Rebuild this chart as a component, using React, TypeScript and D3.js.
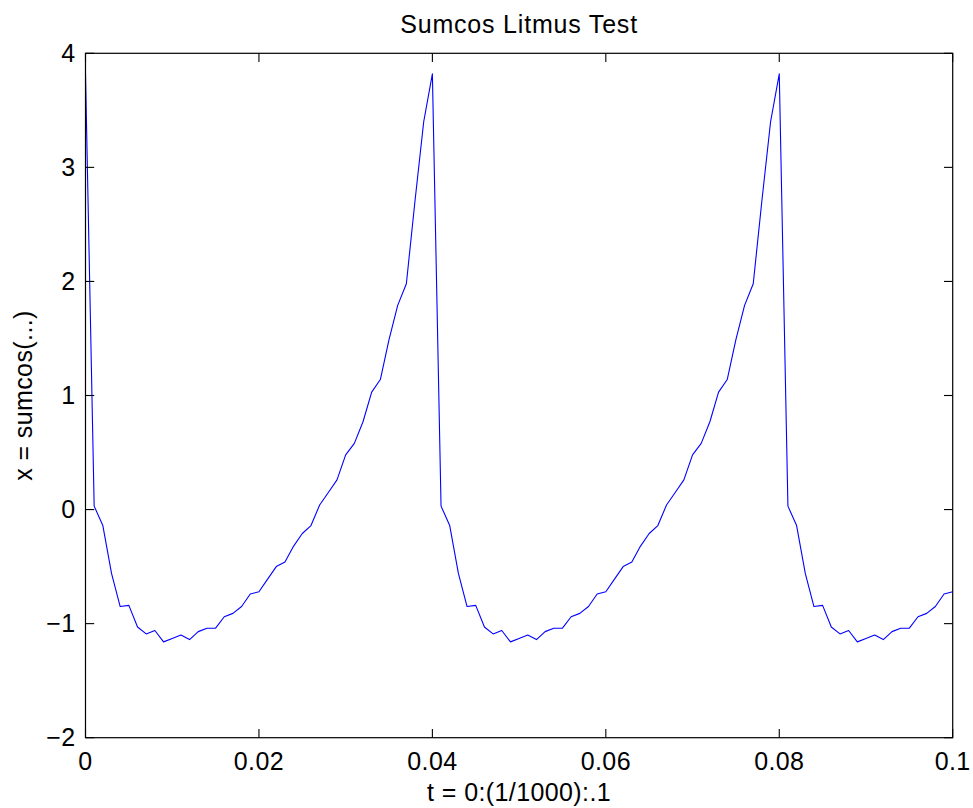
import React, {useEffect, useRef} from 'react';
import * as d3 from 'd3';

const WIDTH = 973;
const HEIGHT = 808;

const sumcosValues = [
    3.82, 0.03, -0.14, -0.56, -0.85, -0.84, -1.03, -1.09, -1.06, -1.16,
    -1.13, -1.10, -1.14, -1.07, -1.04, -1.04, -0.94, -0.91, -0.85, -0.74,
    -0.72, -0.61, -0.50, -0.46, -0.32, -0.21, -0.14, 0.04, 0.15, 0.26,
    0.48, 0.58, 0.77, 1.03, 1.14, 1.49, 1.79, 1.98, 2.71, 3.40,
    3.82, 0.03, -0.14, -0.56, -0.85, -0.84, -1.03, -1.09, -1.06, -1.16,
    -1.13, -1.10, -1.14, -1.07, -1.04, -1.04, -0.94, -0.91, -0.85, -0.74,
    -0.72, -0.61, -0.50, -0.46, -0.32, -0.21, -0.14, 0.04, 0.15, 0.26,
    0.48, 0.58, 0.77, 1.03, 1.14, 1.49, 1.79, 1.98, 2.71, 3.40,
    3.82, 0.03, -0.14, -0.56, -0.85, -0.84, -1.03, -1.09, -1.06, -1.16,
    -1.13, -1.10, -1.14, -1.07, -1.04, -1.04, -0.94, -0.91, -0.85, -0.74,
    -0.72
];
const xTicks = [0, 0.02, 0.04, 0.06, 0.08, 0.1];
const xTickLabels = ['0', '0.02', '0.04', '0.06', '0.08', '0.1'];
const yTicks = [-2, -1, 0, 1, 2, 3, 4];
const yTickLabels = ['\u22122', '\u22121', '0', '1', '2', '3', '4'];

const TITLE = 'Sumcos Litmus Test';
const X_LABEL = 't = 0:(1/1000):.1';
const Y_LABEL = 'x = sumcos(...)';

const App = () => {
    const svgRef = useRef<SVGSVGElement>(null);

    useEffect(() => {
        const margin = {left: 85.5, right: WIDTH - 952.7, top: 53.3, bottom: HEIGHT - 737.7};
        const font = '"Liberation Sans", Arial, Helvetica, sans-serif';
        const fontSize = 25;
        const tickLen = 8.7;

        const x = d3.scaleLinear().domain([0, 0.1]).range([margin.left, WIDTH - margin.right]);
        const y = d3.scaleLinear().domain([-2, 4]).range([HEIGHT - margin.bottom, margin.top]);

        const svg = d3.select(svgRef.current);
        svg.selectAll('*').remove();

        svg.append('rect')
            .attr('width', WIDTH)
            .attr('height', HEIGHT)
            .attr('fill', 'white');

        const data = sumcosValues.map((v, i) => ({t: i / 1000, v}));

        const line = d3.line<{t: number, v: number}>()
            .x(d => x(d.t))
            .y(d => y(d.v));

        svg.append('path')
            .datum(data)
            .attr('d', line)
            .attr('fill', 'none')
            .attr('stroke', '#0000ff')
            .attr('stroke-width', 1.1)
            .attr('stroke-linejoin', 'round');

        const [x0, x1] = x.range();
        const [y0, y1] = y.range();

        // box
        svg.append('rect')
            .attr('x', x0)
            .attr('y', y1)
            .attr('width', x1 - x0)
            .attr('height', y0 - y1)
            .attr('fill', 'none')
            .attr('stroke', '#000')
            .attr('stroke-width', 1.2);

        // ticks, pointing inwards on all four sides
        const ticks = svg.append('g').attr('stroke', '#000').attr('stroke-width', 1.1);
        xTicks.forEach(t => {
            ticks.append('line').attr('x1', x(t)).attr('x2', x(t)).attr('y1', y0).attr('y2', y0 - tickLen);
            ticks.append('line').attr('x1', x(t)).attr('x2', x(t)).attr('y1', y1).attr('y2', y1 + tickLen);
        });
        yTicks.forEach(t => {
            ticks.append('line').attr('x1', x0).attr('x2', x0 + tickLen).attr('y1', y(t)).attr('y2', y(t));
            ticks.append('line').attr('x1', x1).attr('x2', x1 - tickLen).attr('y1', y(t)).attr('y2', y(t));
        });

        const text = svg.append('g')
            .attr('font-family', font)
            .attr('font-size', fontSize)
            .attr('letter-spacing', 0.4)
            .attr('fill', '#000');

        xTicks.forEach((t, i) => {
            text.append('text')
                .attr('x', x(t))
                .attr('y', 770)
                .attr('text-anchor', 'middle')
                .text(xTickLabels[i]);
        });

        yTicks.forEach((t, i) => {
            text.append('text')
                .attr('x', x0 - 10)
                .attr('y', y(t))
                .attr('dy', '0.35em')
                .attr('text-anchor', 'end')
                .text(yTickLabels[i]);
        });

        text.append('text')
            .attr('x', (x0 + x1) / 2)
            .attr('y', 33)
            .attr('text-anchor', 'middle')
            .attr('letter-spacing', 0.8)
            .text(TITLE);

        text.append('text')
            .attr('x', (x0 + x1) / 2)
            .attr('y', 801)
            .attr('text-anchor', 'middle')
            .text(X_LABEL);

        text.append('text')
            .attr('transform', `translate(32,${(y0 + y1) / 2}) rotate(-90)`)
            .attr('text-anchor', 'middle')
            .text(Y_LABEL);
    }, []);

    return (
        <svg
            ref={svgRef}
            width={WIDTH}
            height={HEIGHT}
            style={{position: 'absolute', left: 0, top: 0}}
        />
    );
};

export default App;
